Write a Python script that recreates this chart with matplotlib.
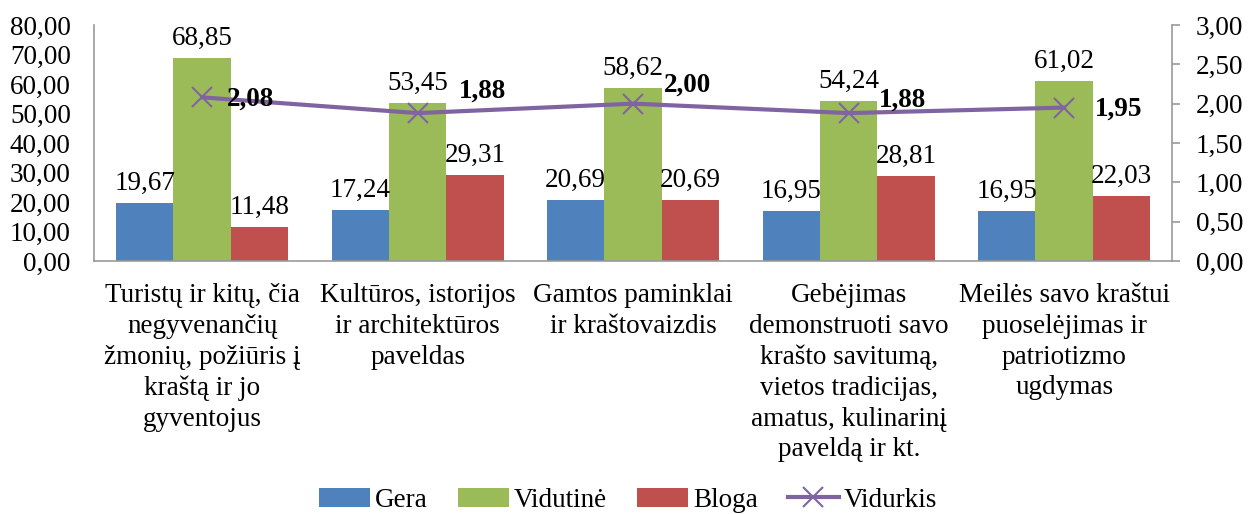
import matplotlib
matplotlib.use('Agg')
import matplotlib.pyplot as plt
import numpy as np

plt.rcParams['font.family'] = ['Liberation Serif', 'DejaVu Serif']

categories = ["Turistų ir kitų, čia\nnegyvenančių\nžmonių, požiūris į\nkraštą ir jo\ngyventojus",
              "Kultūros, istorijos\nir architektūros\npaveldas",
              "Gamtos paminklai\nir kraštovaizdis",
              "Gebėjimas\ndemonstruoti savo\nkrašto savitumą,\nvietos tradicijas,\namatus, kulinarinį\npaveldą ir kt.",
              "Meilės savo kraštui\npuoselėjimas ir\npatriotizmo\nugdymas"]
gera = [19.67, 17.24, 20.69, 16.95, 16.95]
vidutine = [68.85, 53.45, 58.62, 54.24, 61.02]
bloga = [11.48, 29.31, 20.69, 28.81, 22.03]
vidurkis = [2.08, 1.88, 2.00, 1.88, 1.95]

# offsets (points) for the bold average labels
avg_offsets = [(18, -1), (30, 16), (22, 13), (22, 9), (22, -1)]

FS = 19.5

def fmt(v):
    return f"{v:.2f}".replace(".", ",")

fig = plt.figure(figsize=(12.56, 5.14), dpi=100)
ax = fig.add_axes([0.0752, 0.4922, 0.8579, 0.4592])
ax2 = ax.twinx()

x = np.arange(len(categories))
w = 0.8 / 3
series = [(gera, '#4F81BD', 'Gera'), (vidutine, '#9BBB59', 'Vidutinė'), (bloga, '#C0504D', 'Bloga')]
handles = []
for i, (vals, col, name) in enumerate(series):
    bars = ax.bar(x + (i - 1) * w, vals, w, color=col, label=name)
    handles.append(bars)
    for xi, v in zip(x + (i - 1) * w, vals):
        ax.annotate(fmt(v), (xi, v), xytext=(0, 5), textcoords='offset points',
                    ha='center', va='bottom', fontsize=FS)

ln, = ax2.plot(x, vidurkis, color='#8064A2', lw=3, marker='x', ms=14, mew=1.5, label='Vidurkis')
handles.append(ln)
for xi, v, off in zip(x, vidurkis, avg_offsets):
    ax2.annotate(fmt(v), (xi, v), xytext=off, textcoords='offset points',
                 ha='left', va='center', fontsize=FS, fontweight='bold')

ax.set_xlim(-0.5, len(categories) - 0.5)
ax.set_ylim(0, 80)
ax2.set_ylim(0, 3)
ax.set_yticks(np.arange(0, 81, 10))
ax.set_yticklabels([fmt(v) for v in np.arange(0, 81, 10)], fontsize=FS)
ax2.set_yticks(np.arange(0, 3.01, 0.5))
ax2.set_yticklabels([fmt(v) for v in np.arange(0, 3.01, 0.5)], fontsize=FS)
ax.set_xticks(x)
ax.set_xticklabels(categories, fontsize=FS, linespacing=1.3, va='top')

for a in (ax, ax2):
    for s in a.spines.values():
        s.set_visible(False)
ax.spines['left'].set_visible(True)
ax.spines['bottom'].set_visible(True)
ax2.spines['right'].set_visible(True)
for s in (ax.spines['left'], ax.spines['bottom'], ax2.spines['right']):
    s.set_color('#999999')
    s.set_linewidth(1.2)

ax.tick_params(axis='y', length=0, pad=17)
ax.tick_params(axis='x', length=0, pad=16)
ax2.tick_params(axis='y', length=6, width=1.2, color='#999999', direction='out', pad=11)

fig.legend(handles, ['Gera', 'Vidutinė', 'Bloga', 'Vidurkis'], loc='lower center',
           bbox_to_anchor=(0.5, -0.045), ncol=4, frameon=False, fontsize=FS,
           handlelength=1.9, handletextpad=0.18, columnspacing=1.1)

fig.savefig('out.png', dpi=100)
